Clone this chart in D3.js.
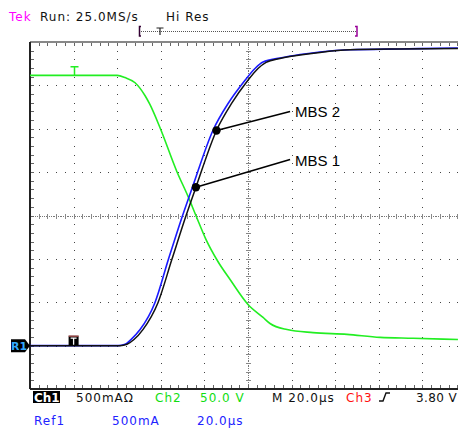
<!DOCTYPE html>
<html>
<head>
<meta charset="utf-8">
<script src="https://cdn.jsdelivr.net/npm/d3@7"></script>
<style>
  body { margin: 0; background: #fff; }
  text { font-family: "DejaVu Sans", sans-serif; font-size: 12px; letter-spacing: 1px; }
  .mbs { font-family: "Liberation Sans", Arial, sans-serif; font-size: 15px; letter-spacing: 0; }
</style>
</head>
<body>
<div id="container"></div>
<script>
/* CONSTANTS AND GLOBALS */
const width = 458,
    height = 428,
    margin = { top: 42, bottom: 39, left: 30, right: -8 };   // graticule runs past the right edge

// time in µs (20 µs/div), vertical position in divisions from screen centre
const timeDomain = [-100, 100];
const divDomain = [-4, 4];

// Ch1 current (black)
const ch1Time = [-100, -58.7, -55.5, -52.3, -48.2, -41.3, -34.9, -28.4, -23.9, -14.45, -7.3, -0.46, 4.6, 8.3, 14.7, 23.9, 33, 46.8, 69.7, 96.3];
const ch1Div  = [-3.0, -3.0, -2.97, -2.86, -2.63, -2.01, -1.01, 0, 0.65, 1.96, 2.60, 3.09, 3.39, 3.53, 3.62, 3.70, 3.76, 3.82, 3.84, 3.85];

// Ref1 current (blue)
const ref1Time = [-100, -59.6, -56.4, -53.7, -49.5, -42.7, -36.5, -30.0, -25.5, -16.1, -8.9, -1.8, 3.2, 6.9, 14.7, 23.9, 33, 46.8, 69.7, 96.3];
const ref1Div  = [-3.0, -3.0, -2.97, -2.86, -2.63, -2.01, -1.01, 0, 0.65, 1.96, 2.60, 3.09, 3.39, 3.54, 3.63, 3.71, 3.77, 3.82, 3.84, 3.86];

// Ch2 voltage (green)
const ch2Time = [-100, -60, -56.4, -51.8, -47.2, -45, -40.4, -32.6, -27.5, -23.9, -19.3, -13.8, -8.3, 0, 6.9, 10.1, 17.9, 29.8, 45.4, 60.6, 75.7, 96.3];
const ch2Div  = [3.23, 3.23, 3.18, 3.06, 2.76, 2.56, 2.03, 1.01, 0.44, 0, -0.55, -1.06, -1.47, -2.05, -2.35, -2.49, -2.63, -2.70, -2.74, -2.81, -2.83, -2.86];

// annotated points on Ch1
const mbsNames = ["MBS 2", "MBS 1"];
const mbsTime = [-14.45, -23.9];
const mbsDiv = [1.96, 0.65];
const mbsLabelTime = [19.3, 19.3];
const mbsLabelDiv = [2.40, 1.29];

// readouts
const headerTexts = ["Tek", "Run: 25.0MS/s", "Hi Res"];
const readRow1 = ["500mAΩ", "Ch2", "50.0 V", "M 20.0µs", "Ch3", "3.80 V"];
const readRow2 = ["Ref1", "500mA", "20.0µs"];

// SVG
const svg = d3.select("#container")
    .append("svg")
    .attr("width", width)
    .attr("height", height);

// SCALES
const x = d3.scaleLinear().domain(timeDomain).range([margin.left, width - margin.right]);
const y = d3.scaleLinear().domain(divDomain).range([height - margin.bottom, margin.top]);

const minorT = d3.range(-100, 100.01, 4);
const minorD = d3.range(-4, 4.01, 0.2);
const majorT = d3.range(-80, 81, 20).filter(d => d !== 0);
const majorD = d3.range(-3, 3.01, 1).filter(d => d !== 0);

const grid = svg.append("g").attr("shape-rendering", "crispEdges");

// dotted graticule lines
const dots = [];
majorD.forEach(v => minorT.forEach(t => dots.push([t, v])));
majorT.forEach(t => minorD.forEach(v => dots.push([t, v])));
grid.selectAll("rect.dot")
    .data(dots)
    .join("rect")
    .attr("class", "dot")
    .attr("x", d => Math.round(x(d[0])) - 0.5)
    .attr("y", d => Math.round(y(d[1])) - 0.5)
    .attr("width", 1.5)
    .attr("height", 1.5)
    .attr("fill", "#444");

// centre cross: dense dots and tick marks
const fineT = d3.range(-100, 100.01, 0.8);
const fineD = d3.range(-4, 4.01, 0.04);
grid.selectAll("rect.ch")
    .data(fineT)
    .join("rect")
    .attr("class", "ch")
    .attr("x", d => Math.round(x(d)))
    .attr("y", y(0))
    .attr("width", 1)
    .attr("height", 1)
    .attr("fill", "#777");
grid.selectAll("rect.cv")
    .data(fineD)
    .join("rect")
    .attr("class", "cv")
    .attr("x", x(0))
    .attr("y", d => Math.round(y(d)))
    .attr("width", 1)
    .attr("height", 1)
    .attr("fill", "#777");
grid.selectAll("line.cht")
    .data(minorT)
    .join("line")
    .attr("class", "cht")
    .attr("x1", d => Math.round(x(d)) + 0.5)
    .attr("x2", d => Math.round(x(d)) + 0.5)
    .attr("y1", y(0) - 2)
    .attr("y2", y(0) + 3)
    .attr("stroke", "#888");
grid.selectAll("line.cvt")
    .data(minorD)
    .join("line")
    .attr("class", "cvt")
    .attr("y1", d => Math.round(y(d)) + 0.5)
    .attr("y2", d => Math.round(y(d)) + 0.5)
    .attr("x1", x(0) - 2)
    .attr("x2", x(0) + 3)
    .attr("stroke", "#888");

// edge ticks
grid.selectAll("line.topTick")
    .data(minorT)
    .join("line")
    .attr("class", "topTick")
    .attr("x1", d => Math.round(x(d)) + 0.5)
    .attr("x2", d => Math.round(x(d)) + 0.5)
    .attr("y1", y(4))
    .attr("y2", y(4) + 4)
    .attr("stroke", "#666");
grid.selectAll("line.botTick")
    .data(minorT)
    .join("line")
    .attr("class", "botTick")
    .attr("x1", d => Math.round(x(d)) + 0.5)
    .attr("x2", d => Math.round(x(d)) + 0.5)
    .attr("y1", y(-4))
    .attr("y2", y(-4) - 4)
    .attr("stroke", "#666");
grid.selectAll("line.leftTick")
    .data(minorD)
    .join("line")
    .attr("class", "leftTick")
    .attr("y1", d => Math.round(y(d)) + 0.5)
    .attr("y2", d => Math.round(y(d)) + 0.5)
    .attr("x1", x(-100))
    .attr("x2", x(-100) + 4)
    .attr("stroke", "#666");

// borders
grid.append("line")
    .attr("x1", x(-100)).attr("x2", width)
    .attr("y1", y(4)).attr("y2", y(4))
    .attr("stroke", "#888").attr("stroke-width", 2);
grid.append("line")
    .attr("x1", x(-100)).attr("x2", width)
    .attr("y1", y(-4)).attr("y2", y(-4))
    .attr("stroke", "#222").attr("stroke-width", 1.5);
grid.append("line")
    .attr("x1", x(-100)).attr("x2", x(-100))
    .attr("y1", y(4)).attr("y2", y(-4))
    .attr("stroke", "#222").attr("stroke-width", 1.5);

// TRACES
const lineGen = (ts, vs) => d3.line()
    .x(i => x(ts[i]))
    .y(i => y(vs[i]))
    .curve(d3.curveMonotoneX)(d3.range(ts.length));

svg.append("path")
    .attr("d", lineGen(ch2Time, ch2Div))
    .attr("fill", "none")
    .attr("stroke", "#22ee22")
    .attr("stroke-width", 1.6);
svg.append("path")
    .attr("d", lineGen(ref1Time, ref1Div))
    .attr("fill", "none")
    .attr("stroke", "#1a1aff")
    .attr("stroke-width", 1.6);
svg.append("path")
    .attr("d", lineGen(ch1Time, ch1Div))
    .attr("fill", "none")
    .attr("stroke", "#111")
    .attr("stroke-width", 1.5);

// ANNOTATIONS
const mbs = svg.selectAll("g.mbs")
    .data(d3.range(mbsNames.length))
    .join("g")
    .attr("class", "mbs");
mbs.append("line")
    .attr("x1", i => x(mbsTime[i]))
    .attr("y1", i => y(mbsDiv[i]))
    .attr("x2", i => x(mbsLabelTime[i]))
    .attr("y2", i => y(mbsLabelDiv[i]))
    .attr("stroke", "#000")
    .attr("stroke-width", 1.6);
mbs.append("circle")
    .attr("cx", i => x(mbsTime[i]))
    .attr("cy", i => y(mbsDiv[i]))
    .attr("r", 4.2)
    .attr("fill", "#000");
mbs.append("text")
    .attr("class", "mbs")
    .attr("x", i => x(mbsLabelTime[i]) + 5)
    .attr("y", i => y(mbsLabelDiv[i]) + 6)
    .text(i => mbsNames[i]);

// MARKERS
// Ch2 trigger-level marker
const gx = Math.round(x(-80)) + 0.5;
svg.append("path")
    .attr("d", `M${gx - 4},${y(3.43)}H${gx + 4}M${gx},${y(3.43)}V${y(3.23)}`)
    .attr("stroke", "#22ee22")
    .attr("stroke-width", 1.5)
    .attr("fill", "none");

// trigger position marker on Ch1
svg.append("rect")
    .attr("x", x(-80) - 5).attr("y", y(-3) - 10)
    .attr("width", 10).attr("height", 10)
    .attr("fill", "#000");
svg.append("rect")
    .attr("x", x(-80) - 5).attr("y", y(-3) - 10)
    .attr("width", 10).attr("height", 1)
    .attr("fill", "#d66");
svg.append("path")
    .attr("d", `M${x(-80) - 3},${y(-3) - 7.5}H${x(-80) + 3}M${x(-80)},${y(-3) - 7.5}V${y(-3) - 1}`)
    .attr("stroke", "#fff")
    .attr("stroke-width", 1.3);

// Ch1 / Ref1 ground marker
svg.append("path")
    .attr("d", `M11,${y(-3) - 6.5}H25L30,${y(-3)}L25,${y(-3) + 6.5}H11Z`)
    .attr("fill", "#000");
svg.append("text")
    .attr("x", 11).attr("y", y(-3) + 4.5)
    .attr("fill", "#33aaff")
    .style("font-size", "11px")
    .style("font-weight", "bold")
    .style("letter-spacing", "0px")
    .text("R1");

// record bracket
svg.append("line")
    .attr("x1", 141).attr("x2", 356)
    .attr("y1", 31.5).attr("y2", 31.5)
    .attr("stroke", "#555")
    .attr("stroke-dasharray", "1,1");
svg.append("path")
    .attr("d", "M141,26.5H139.5V36H141")
    .attr("stroke", "#330033").attr("stroke-width", 1.5).attr("fill", "none");
svg.append("path")
    .attr("d", "M355,26.5H357V36H355")
    .attr("stroke", "#990099").attr("stroke-width", 1.5).attr("fill", "none");
svg.append("path")
    .attr("d", "M156.5,28H163.5M160,28V35")
    .attr("stroke", "#222").attr("stroke-width", 1.2).attr("fill", "none");

// HEADER
svg.append("text").attr("x", 9).attr("y", 21).attr("fill", "#ff00ff").text(headerTexts[0]);
svg.append("text").attr("x", 40).attr("y", 21).attr("fill", "#111").text(headerTexts[1]);
svg.append("text").attr("x", 166).attr("y", 21).attr("fill", "#111").text(headerTexts[2]);

// READOUTS
svg.append("rect")
    .attr("x", 33).attr("y", 391)
    .attr("width", 27).attr("height", 12)
    .attr("fill", "#000");
svg.append("text").attr("x", 34).attr("y", 401.5).attr("fill", "#fff")
    .style("font-weight", "bold").style("letter-spacing", "0px").text("Ch1");

const row1X = [76, 155, 200, 272, 346, 416];
const row1Col = ["#111", "#11dd11", "#11dd11", "#111", "#ff1111", "#111"];
svg.selectAll("text.r1")
    .data(readRow1)
    .join("text")
    .attr("class", "r1")
    .attr("x", (d, i) => row1X[i])
    .attr("y", 401.5)
    .attr("fill", (d, i) => row1Col[i])
    .style("letter-spacing", (d, i) => i === 5 ? "0.4px" : null)
    .text(d => d);

// trigger slope symbol
svg.append("path")
    .attr("d", "M379,401H383L386,393H390")
    .attr("stroke", "#111").attr("stroke-width", 1.4).attr("fill", "none");

const row2X = [34, 112, 197];
svg.selectAll("text.r2")
    .data(readRow2)
    .join("text")
    .attr("class", "r2")
    .attr("x", (d, i) => row2X[i])
    .attr("y", 425)
    .attr("fill", "#2222ff")
    .text(d => d);
</script>
</body>
</html>
